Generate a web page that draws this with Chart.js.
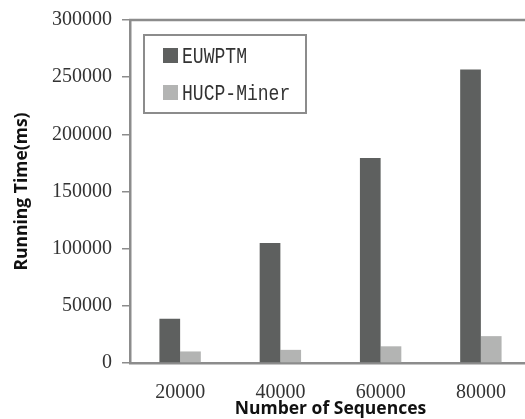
<!DOCTYPE html>
<html>
<head>
<meta charset="utf-8">
<script src="https://cdn.jsdelivr.net/npm/chart.js@4.4.1/dist/chart.umd.min.js"></script>
<style>
  html, body { margin: 0; padding: 0; background: #ffffff; overflow: hidden; }
  #wrap { width: 535px; height: 419px; }
</style>
</head>
<body>
<div id="wrap"><canvas id="chart" width="535" height="419"></canvas></div>
<script>
// Running time of the two miners for growing sequence databases
const categories = ['20000', '40000', '60000', '80000'];
const euwptmTimes = [38800, 104900, 179400, 256800];
const hucpTimes = [10100, 11500, 14600, 23500];
const seriesNames = ['EUWPTM', 'HUCP-Miner'];
const yTickValues = [0, 50000, 100000, 150000, 200000, 250000, 300000];

const AXIS_GREY = '#8c8c8c';
const DARK_BAR = '#5e605f';
const LIGHT_BAR = '#b3b4b3';

// Top frame line that runs across the plot to the right edge of the canvas
const topFrame = {
  id: 'topFrame',
  afterDraw(chart) {
    const { ctx, chartArea } = chart;
    ctx.save();
    ctx.strokeStyle = AXIS_GREY;
    ctx.lineWidth = 2.5;
    ctx.beginPath();
    ctx.moveTo(chartArea.left - 1, chartArea.top);
    ctx.lineTo(chart.width, chartArea.top);
    ctx.stroke();
    ctx.restore();
  }
};

// Boxed legend drawn inside the plot, upper left corner
const boxedLegend = {
  id: 'boxedLegend',
  afterDraw(chart) {
    const { ctx, chartArea } = chart;
    const x0 = chartArea.left + 14;
    const y0 = chartArea.top + 15;
    ctx.save();
    ctx.strokeStyle = AXIS_GREY;
    ctx.lineWidth = 2;
    ctx.strokeRect(x0, y0, 162, 78);
    chart.data.datasets.forEach((ds, i) => {
      const rowTop = y0 + 13 + i * 37;
      ctx.fillStyle = ds.backgroundColor;
      ctx.fillRect(x0 + 19, rowTop, 15, 15);
      ctx.save();
      ctx.translate(x0 + 38, rowTop + 15);
      ctx.scale(0.82, 1);
      ctx.fillStyle = '#333333';
      ctx.font = '22px "Liberation Mono", monospace';
      ctx.textBaseline = 'alphabetic';
      ctx.fillText(ds.label, 0, 0);
      ctx.restore();
    });
    ctx.restore();
  }
};

new Chart(document.getElementById('chart'), {
  type: 'bar',
  data: {
    labels: categories,
    datasets: [
      { label: seriesNames[0], data: euwptmTimes, backgroundColor: DARK_BAR, borderWidth: 0 },
      { label: seriesNames[1], data: hucpTimes, backgroundColor: LIGHT_BAR, borderWidth: 0 }
    ]
  },
  options: {
    responsive: false,
    animation: false,
    devicePixelRatio: 1,
    layout: { padding: { left: 6, top: 17, right: 4, bottom: 2 } },
    datasets: {
      bar: { categoryPercentage: 0.413, barPercentage: 1.0 }
    },
    plugins: {
      legend: { display: false },
      tooltip: { enabled: false }
    },
    scales: {
      x: {
        grid: { display: true, drawOnChartArea: false, drawTicks: false, color: 'rgba(0,0,0,0)' },
        border: { display: true, color: AXIS_GREY, width: 2.5 },
        ticks: {
          padding: 20,
          color: '#333333',
          font: { family: '"Liberation Serif", serif', size: 20, lineHeight: 1 }
        },
        title: {
          display: true,
          text: 'Number of Sequences',
          color: '#111111',
          padding: { top: -24, bottom: -3 },
          font: { family: '"Open Sans", sans-serif', size: 17.5, weight: 'bold', lineHeight: 1.2 }
        }
      },
      y: {
        min: 0,
        max: 300000,
        afterBuildTicks(scale) {
          scale.ticks = yTickValues.map(v => ({ value: v }));
        },
        grid: { drawOnChartArea: false, drawTicks: true, tickLength: 8, tickColor: AXIS_GREY, lineWidth: 1.5 },
        border: { display: true, color: AXIS_GREY, width: 2.5 },
        ticks: {
          padding: 10,
          color: '#333333',
          font: { family: '"Liberation Serif", serif', size: 20, lineHeight: 1 },
          callback: (v) => String(v)
        },
        title: {
          display: true,
          text: 'Running Time(ms)',
          color: '#111111',
          padding: { top: 6, bottom: 9 },
          font: { family: '"Open Sans", sans-serif', size: 17.5, weight: 'bold', lineHeight: 1.2 }
        }
      }
    }
  },
  plugins: [topFrame, boxedLegend]
});
</script>
</body>
</html>
